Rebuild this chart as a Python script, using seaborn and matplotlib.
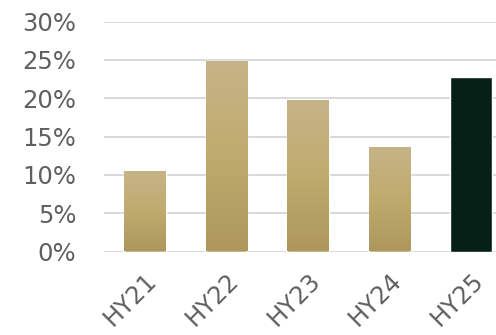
import matplotlib
matplotlib.use("Agg")
import matplotlib.pyplot as plt
import seaborn as sns
import numpy as np
import pandas as pd
from matplotlib.colors import LinearSegmentedColormap

categories = ["HY21", "HY22", "HY23", "HY24", "HY25"]
values = [10.5, 24.9, 19.8, 13.6, 22.8]
y_ticks = [0, 5, 10, 15, 20, 25, 30]
y_tick_labels = ["0%", "5%", "10%", "15%", "20%", "25%", "30%"]

sns.set_theme(style="white")
plt.rcParams['font.family'] = ['DejaVu Sans']

df = pd.DataFrame({"cat": categories, "val": values})
fig = plt.figure(figsize=(4.96, 3.35), dpi=100)
ax = fig.add_axes([104/496, (335-251.5)/335, (496-104)/496, (251.5-21.5)/335])

palette = ["#bfab70"] * 4 + ["#032418"]
sns.barplot(data=df, x="cat", y="val", hue="cat", palette=palette, legend=False,
            width=0.51, ax=ax, zorder=3)

gold = LinearSegmentedColormap.from_list("gold", ["#ad975d", "#c0ab6e", "#c6b488"])
grad = np.linspace(0, 1, 256).reshape(-1, 1)
for i, p in enumerate(ax.patches):
    if i == len(categories) - 1:
        continue
    x0, y0 = p.get_x(), p.get_y()
    w, h = p.get_width(), p.get_height()
    im = ax.imshow(grad, cmap=gold, origin="lower", aspect="auto",
                   extent=[x0, x0 + w, y0, y0 + h], zorder=4)
    im.set_clip_path(p)

ax.set_xlim(-0.5, -0.5 + 392/81.6)
ax.set_ylim(0, 30)
ax.set_yticks(y_ticks)
ax.set_yticklabels(y_tick_labels)
ax.yaxis.grid(True, color="#d9d9d9", linewidth=1.4, zorder=0)
ax.set_axisbelow(True)
for s in ax.spines.values():
    s.set_visible(False)
ax.set_xlabel("")
ax.set_ylabel("")
tcol = "#5f5f5f"
ax.tick_params(axis="y", length=0, pad=20, labelsize=17.5, labelcolor=tcol)
ax.tick_params(axis="x", length=0, pad=12, labelsize=17.5, labelcolor=tcol)
for lab in ax.get_xticklabels():
    lab.set_rotation(45)
    lab.set_ha("right")
    lab.set_va("top")
    lab.set_rotation_mode("anchor")

fig.savefig("out.png", dpi=100)
